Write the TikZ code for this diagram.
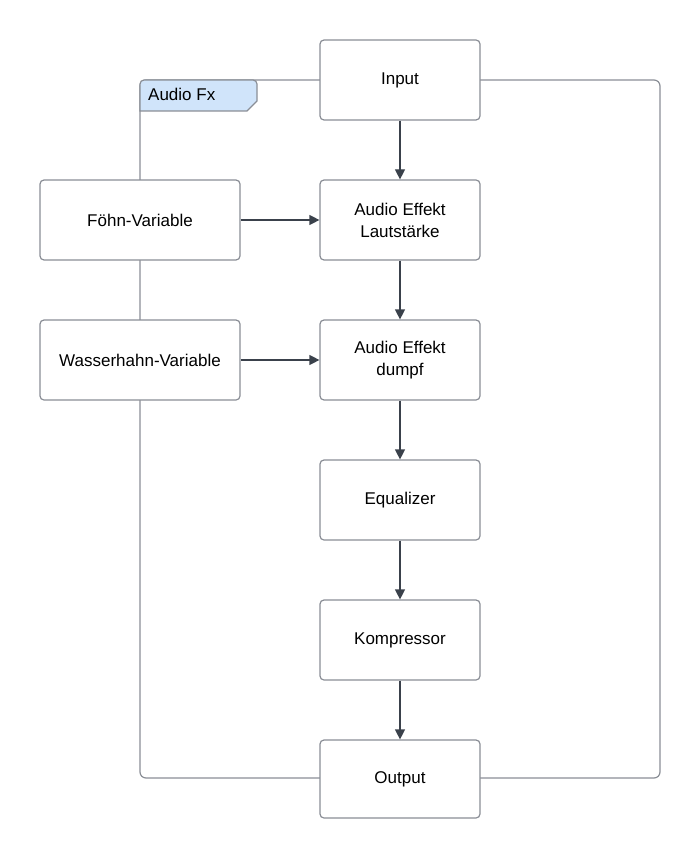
\documentclass[tikz,border=0pt]{standalone}
\usepackage{fontspec}
\setmainfont{Liberation Sans}
\usetikzlibrary{arrows.meta}
\definecolor{boxline}{HTML}{8A8E96}
\definecolor{arrowc}{HTML}{3A414B}
\definecolor{tabfill}{HTML}{D0E4FA}
\tikzset{
  x=1pt, y=-1pt,
  blockbox/.style={draw=boxline, line width=1.2pt, fill=white, rounded corners=4pt,
    minimum width=160pt, minimum height=80pt, align=center, font=\fontsize{17}{22}\selectfont, inner sep=2pt},
  sidebox/.style={blockbox, minimum width=200pt},
  flow/.style={draw=arrowc, line width=1.2pt, -{Triangle[length=10pt,width=10pt]}},
  framel/.style={draw=boxline, line width=1.2pt}
}
\begin{document}
\begin{tikzpicture}
\useasboundingbox (0,0) rectangle (700,861);
% frame
\draw[framel, rounded corners=6pt] (140,110) -- (140,778) -- (660,778) -- (660,80) -- (140,80) -- (140,110);
\draw[framel, fill=tabfill] (140,111) -- (140,84) [rounded corners=4pt] -- (140,80) -- (257,80) [sharp corners] -- (257,101) -- (247,111) -- cycle;
\node[anchor=base west, font=\fontsize{17}{22}\selectfont, inner sep=0pt] (tab) at (148,101) {Audio Fx};
% boxes
\node[blockbox] (in) at (400,80) {Input};
\node[blockbox] (laut) at (400,220) {Audio Effekt\\Lautstärke};
\node[blockbox] (dumpf) at (400,360) {Audio Effekt\\dumpf};
\node[blockbox] (eq) at (400,500) {Equalizer};
\node[blockbox] (komp) at (400,640) {Kompressor};
\node[blockbox, minimum height=78pt] (out) at (400,779) {Output};
\node[sidebox] (foehn) at (140,220) {Föhn-Variable};
\node[sidebox] (wasser) at (140,360) {Wasserhahn-Variable};
% arrows
\draw[flow] (in) -- (laut);
\draw[flow] (laut) -- (dumpf);
\draw[flow] (dumpf) -- (eq);
\draw[flow] (eq) -- (komp);
\draw[flow] (komp) -- (out);
\draw[flow] (foehn) -- (laut);
\draw[flow] (wasser) -- (dumpf);
\end{tikzpicture}
\end{document}
